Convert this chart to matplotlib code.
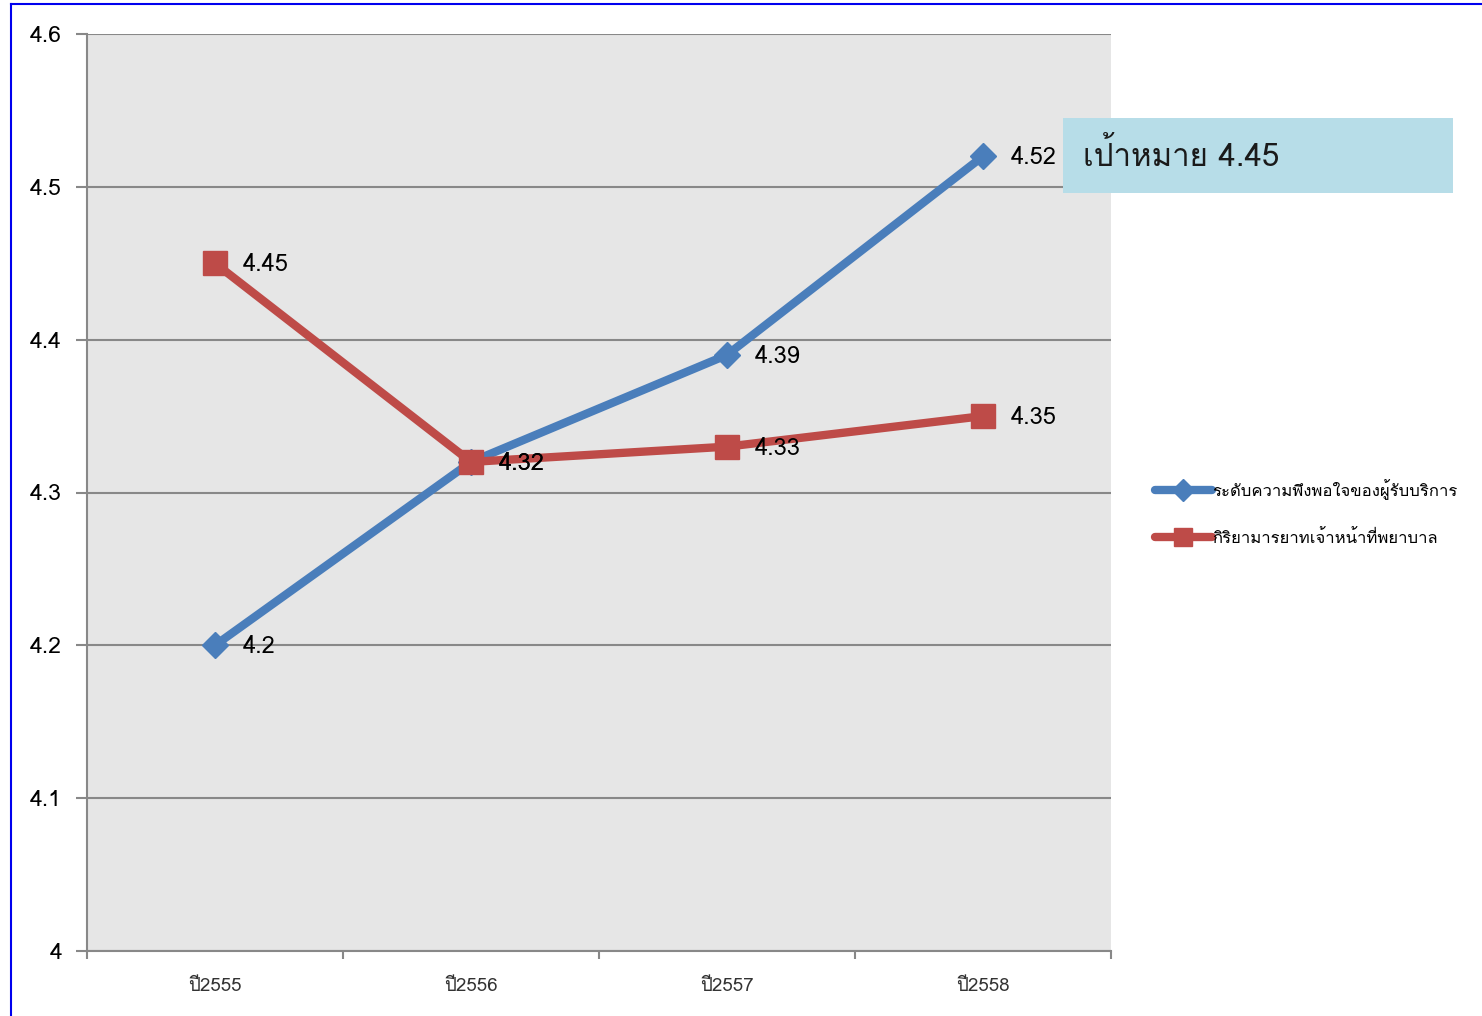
import matplotlib
matplotlib.use("Agg")
import matplotlib.pyplot as plt
from matplotlib import font_manager
from matplotlib.ft2font import FT2Font
from matplotlib.lines import Line2D
from matplotlib.patches import Rectangle

years = ["ปี2555", "ปี2556", "ปี2557", "ปี2558"]
satisfaction = [4.2, 4.32, 4.39, 4.52]
manners = [4.45, 4.32, 4.33, 4.35]
series_names = ["ระดับความพึงพอใจของผู้รับบริการ", "กิริยามารยาทเจ้าหน้าที่พยาบาล"]
target_text = "เป้าหมาย 4.45"


def thai_family():
    # find an installed family that has Thai glyphs
    for f in font_manager.fontManager.ttflist:
        try:
            if 0x0E01 in FT2Font(f.fname).get_charmap():
                return f.name
        except Exception:
            pass
    return None


fam = thai_family()
families = ([fam] if fam else []) + ["DejaVu Sans"]
plt.rcParams["font.family"] = families

BLUE = "#4A7EBB"
RED = "#BE4B48"

fig = plt.figure(figsize=(14.82, 10.16), dpi=100)
ax = fig.add_axes([87 / 1482, 1 - 951 / 1016, (1111 - 87) / 1482, (951 - 34) / 1016])
ax.set_facecolor("#E6E6E6")

x = range(len(years))
ax.plot(x, satisfaction, color=BLUE, lw=6, marker="D", ms=13, zorder=3, solid_capstyle="round")
ax.plot(x, manners, color=RED, lw=6, marker="s", ms=17, zorder=4, solid_capstyle="round")

for i, v in enumerate(satisfaction):
    ax.annotate(f"{v:g}", (i, v), xytext=(20, -1), textcoords="offset points",
                va="center", ha="left", fontsize=17, zorder=5)
for i, v in enumerate(manners):
    ax.annotate(f"{v:g}", (i, v), xytext=(20, -1), textcoords="offset points",
                va="center", ha="left", fontsize=17, zorder=5)

ax.set_xlim(-0.5, 3.5)
ax.set_ylim(4.0, 4.6)
ax.set_yticks([4.0, 4.1, 4.2, 4.3, 4.4, 4.5, 4.6])
ax.set_yticklabels(["4", "4.1", "4.2", "4.3", "4.4", "4.5", "4.6"], fontsize=16.5)
ax.set_xticks([-0.5, 0.5, 1.5, 2.5, 3.5])
ax.set_xticklabels([])
ax.set_xticks(list(x), minor=True)
ax.set_xticklabels(years, minor=True, fontsize=13.5, color="#333333")
ax.tick_params(axis="x", which="minor", length=0, pad=19)
ax.tick_params(axis="x", which="major", length=6, width=1.5, color="#888888", direction="out")
ax.tick_params(axis="y", length=8, width=1.5, color="#888888", pad=10)
ax.grid(axis="y", color="#888888", lw=1.5)
ax.set_axisbelow(True)
for s in ["top", "right"]:
    ax.spines[s].set_visible(False)
for s in ["left", "bottom"]:
    ax.spines[s].set_color("#888888")
    ax.spines[s].set_linewidth(1.5)

# target box
fig.patches.append(Rectangle((1063 / 1482, 1 - 193 / 1016), 390 / 1482, 75 / 1016,
                             transform=fig.transFigure, facecolor="#B7DDE8", edgecolor="none", zorder=5))
fig.text(1083 / 1482, 1 - 156 / 1016, target_text, fontsize=22.5, va="center", ha="left",
         color="#1a1a1a", zorder=6)

handles = [
    Line2D([], [], color=BLUE, lw=6, marker="D", ms=11, solid_capstyle="round"),
    Line2D([], [], color=RED, lw=6, marker="s", ms=13, solid_capstyle="round"),
]
fig.legend(handles, series_names, loc="center left", bbox_to_anchor=(1140 / 1482, 1 - 513 / 1016),
           frameon=False, fontsize=12, handlelength=3.4, handletextpad=0.05, labelspacing=1.8,
           markerscale=1.0, numpoints=1)

# blue border
fig.add_artist(Line2D([11 / 1482, 11 / 1482], [0, 1 - 4 / 1016], transform=fig.transFigure,
                      color="#0000EE", lw=1.5))
fig.add_artist(Line2D([11 / 1482, 1], [1 - 4 / 1016, 1 - 4 / 1016], transform=fig.transFigure,
                      color="#0000EE", lw=1.5))

fig.savefig("out.png", dpi=100)
